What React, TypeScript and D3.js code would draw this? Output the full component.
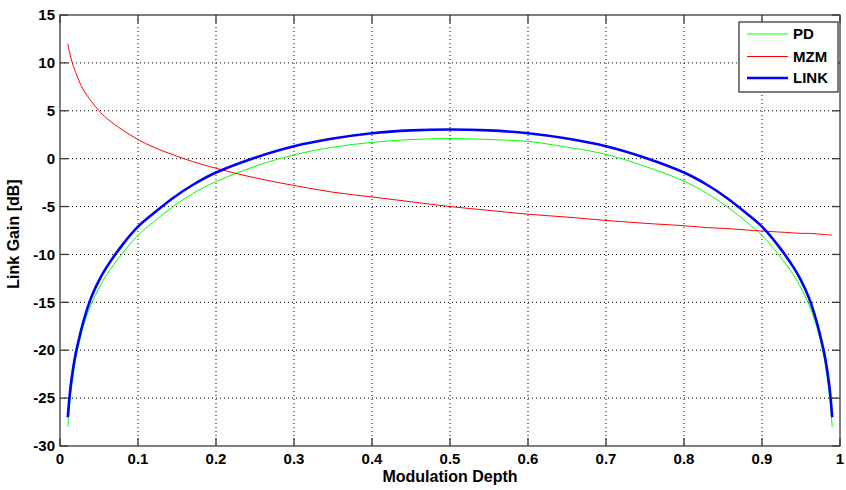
import React from "react";
import * as d3 from "d3";

// Modulation depth sample points
const depth = [
  0.01, 0.0125, 0.015, 0.02, 0.025, 0.03, 0.04, 0.05, 0.06, 0.08, 0.1, 0.12, 0.145, 0.17, 0.2,
  0.25, 0.3, 0.35, 0.4, 0.45, 0.5, 0.55, 0.6, 0.65, 0.7, 0.75, 0.8, 0.83, 0.855, 0.88, 0.9,
  0.92, 0.94, 0.95, 0.96, 0.97, 0.975, 0.98, 0.985, 0.9875, 0.99,
];

// Photodetector gain [dB]
const pdGain = [
  -28.0, -25.5, -23.8, -21.0, -19.1, -17.5, -15.2, -13.5, -12.1, -9.9, -8.0, -6.6, -5.0, -3.65, -2.4,
  -0.8, 0.4, 1.2, 1.7, 2.0, 2.1, 2.0, 1.8, 1.2, 0.45, -0.8, -2.35, -3.65, -5.0, -6.6, -8.0,
  -9.9, -12.1, -13.5, -15.2, -17.5, -19.1, -21.0, -23.8, -25.5, -28.0,
];

// Modulator gain [dB]
const mzmGain = [
  12.0, 11.0, 10.2, 9.0, 8.0, 7.2, 6.0, 5.0, 4.2, 3.0, 2.0, 1.2, 0.4, -0.3, -1.0,
  -2.0, -2.8, -3.5, -4.0, -4.5, -5.0, -5.4, -5.8, -6.1, -6.45, -6.75, -7.0, -7.2, -7.3, -7.45, -7.55,
  -7.65, -7.75, -7.8, -7.8, -7.85, -7.9, -7.9, -7.95, -7.95, -8.0,
];

// Overall link gain [dB]
const linkGain = [
  -27.0, -24.6, -22.9, -20.4, -18.6, -17.0, -14.5, -12.7, -11.3, -9.0, -7.1, -5.7, -4.1, -2.75, -1.45,
  0.1, 1.3, 2.1, 2.65, 2.95, 3.05, 2.95, 2.65, 2.1, 1.3, 0.1, -1.45, -2.75, -4.1, -5.7, -7.1,
  -9.0, -11.3, -12.7, -14.5, -17.0, -18.6, -20.4, -22.9, -24.6, -27.0,
];

const xTicks = [0, 0.1, 0.2, 0.3, 0.4, 0.5, 0.6, 0.7, 0.8, 0.9, 1];
const yTicks = [-30, -25, -20, -15, -10, -5, 0, 5, 10, 15];

const seriesNames = ["PD", "MZM", "LINK"];
const seriesColors = ["#00ff00", "#ff0000", "#0000ff"];
const seriesWidths = [1, 1, 2.6];

const W = 846;
const H = 490;
const M = { left: 60, right: 840, top: 15, bottom: 446 };
const FONT = "'Liberation Sans', Arial, sans-serif";

export default function App() {
  const x = d3.scaleLinear().domain([0, 1]).range([M.left, M.right]);
  const y = d3.scaleLinear().domain([-30, 15]).range([M.bottom, M.top]);

  const line = d3
    .line<[number, number]>()
    .x((d) => x(d[0]))
    .y((d) => y(d[1]))
    .curve(d3.curveCatmullRom.alpha(0.5));

  const series = [pdGain, mzmGain, linkGain].map((vals) =>
    depth.map((m, i) => [m, vals[i]] as [number, number])
  );

  const tickLen = 8;
  const axisColor = "#3a3a3a";

  const legend = { x: 739, y: 22, w: 99, h: 70 };
  const legendRows = [34, 56.5, 78];

  return (
    <svg
      width={W}
      height={H}
      style={{ position: "absolute", left: 0, top: 0, background: "#fff" }}
      fontFamily={FONT}
      fontWeight="bold"
    >
      <rect x={0} y={0} width={W} height={H} fill="#fff" />
      <rect x={M.left} y={M.top} width={M.right - M.left} height={M.bottom - M.top} fill="#fff" />

      {/* grid */}
      <g stroke="#000" strokeWidth={1} strokeDasharray="1,3">
        {xTicks.slice(1, -1).map((t) => (
          <line key={"gx" + t} x1={x(t)} x2={x(t)} y1={M.top} y2={M.bottom} />
        ))}
        {yTicks.slice(1, -1).map((t) => (
          <line key={"gy" + t} x1={M.left} x2={M.right} y1={y(t)} y2={y(t)} />
        ))}
      </g>

      {/* curves */}
      <g fill="none" strokeLinejoin="round">
        {series.map((s, i) => (
          <path key={seriesNames[i]} d={line(s) || ""} stroke={seriesColors[i]} strokeWidth={seriesWidths[i]} />
        ))}
      </g>

      {/* box and ticks */}
      <g stroke={axisColor} strokeWidth={1.3}>
        <rect x={M.left} y={M.top} width={M.right - M.left} height={M.bottom - M.top} fill="none" />
        {xTicks.map((t) => (
          <g key={"tx" + t}>
            <line x1={x(t)} x2={x(t)} y1={M.bottom} y2={M.bottom - tickLen} />
            <line x1={x(t)} x2={x(t)} y1={M.top} y2={M.top + tickLen} />
          </g>
        ))}
        {yTicks.map((t) => (
          <g key={"ty" + t}>
            <line x1={M.left} x2={M.left + tickLen} y1={y(t)} y2={y(t)} />
            <line x1={M.right} x2={M.right - tickLen} y1={y(t)} y2={y(t)} />
          </g>
        ))}
      </g>

      {/* tick labels */}
      <g fontSize={15} fill="#000">
        {xTicks.map((t) => (
          <text key={"lx" + t} x={x(t)} y={M.bottom + 18} textAnchor="middle">
            {String(t)}
          </text>
        ))}
        {yTicks.map((t) => (
          <text key={"ly" + t} x={M.left - 5} y={y(t)} dy="0.35em" textAnchor="end">
            {String(t)}
          </text>
        ))}
      </g>

      {/* axis titles */}
      <text x={(M.left + M.right) / 2} y={482} textAnchor="middle" fontSize={16} fill="#000">
        Modulation Depth
      </text>
      <text
        transform={`translate(19, 234) rotate(-90)`}
        textAnchor="middle"
        fontSize={16}
        fill="#000"
      >
        Link Gain [dB]
      </text>

      {/* legend */}
      <g>
        <rect x={legend.x} y={legend.y} width={legend.w} height={legend.h} fill="#fff" stroke={axisColor} strokeWidth={1.3} />
        {seriesNames.map((n, i) => (
          <g key={"lg" + n}>
            <line x1={747} x2={788} y1={legendRows[i]} y2={legendRows[i]} stroke={seriesColors[i]} strokeWidth={seriesWidths[i]} />
            <text x={793} y={legendRows[i]} dy="0.36em" fontSize={15} fill="#000">
              {n}
            </text>
          </g>
        ))}
      </g>
    </svg>
  );
}
